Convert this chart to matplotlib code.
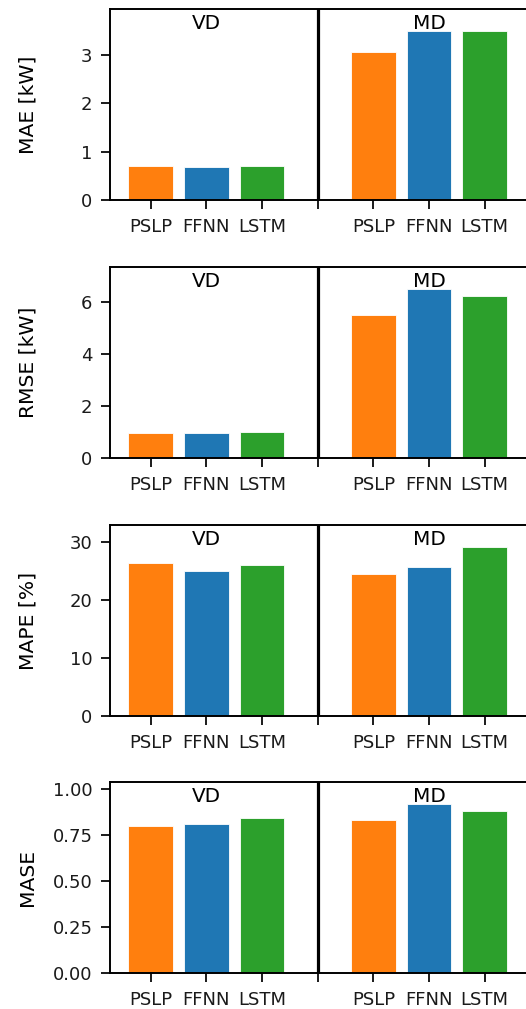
from matplotlib import pyplot as plt
import numpy as np

models = ['PSLP', 'FFNN', 'LSTM']
colors = ['#ff7f0e', '#1f77b4', '#2ca02c']
datasets = ['VD', 'MD']

mae_vd = [0.70, 0.69, 0.70]
mae_md = [3.07, 3.51, 3.50]
rmse_vd = [0.96, 0.95, 0.99]
rmse_md = [5.48, 6.51, 6.21]
mape_vd = [26.5, 25.1, 26.1]
mape_md = [24.6, 25.8, 29.3]
mase_vd = [0.80, 0.81, 0.84]
mase_md = [0.83, 0.92, 0.88]

metrics = [
    ('MAE [kW]', mae_vd, mae_md, [0, 1, 2, 3], None),
    ('RMSE [kW]', rmse_vd, rmse_md, [0, 2, 4, 6], None),
    ('MAPE [%]', mape_vd, mape_md, [0, 10, 20, 30], None),
    ('MASE', mase_vd, mase_md, [0, 0.25, 0.5, 0.75, 1.0], '{:.2f}'),
]

W, H = 526, 1009
fig = plt.figure(figsize=(W / 100, H / 100), dpi=100)

x_vd = np.array([1, 2, 3])
x_md = np.array([5, 6, 7])
row_tops = [9, 267, 525, 782]
ax_h = 191
x0, x1 = 0.26, 7.74
px_per_unit = 55.67
left = 109.5
width = (x1 - x0) * px_per_unit

for (ylabel, vd, md, yticks, fmt), top in zip(metrics, row_tops):
    ax = fig.add_axes([left / W, 1 - (top + ax_h) / H, width / W, ax_h / H])
    ax.bar(x_vd, vd, width=0.8, color=colors, edgecolor='white', lw=0.6)
    ax.bar(x_md, md, width=0.8, color=colors, edgecolor='white', lw=0.6)
    ax.axvline(4, color='k', lw=2.3)
    ymax = max(max(vd), max(md)) * 1.127
    ax.set_xlim(x0, x1)
    ax.set_ylim(0, ymax)
    ax.set_xticks([1, 2, 3, 4, 5, 6, 7])
    ax.set_xticklabels(models + [''] + models)
    ax.set_yticks(yticks)
    if fmt:
        ax.set_yticklabels([fmt.format(v) for v in yticks])
    for xc, name in zip([2, 6], datasets):
        ax.text(xc, 0.975, name, transform=ax.get_xaxis_transform(),
                ha='center', va='top', fontsize=14.4)
    ax.set_ylabel(ylabel, fontsize=14.6)
    ax.yaxis.set_label_coords((37 - left) / width, 0.5)
    ax.tick_params(labelsize=13, length=6.3, width=1.4, pad=6, colors='#1a1a1a')
    ax.tick_params(axis='x', pad=7)
    for s in ax.spines.values():
        s.set_linewidth(1.4)
    ax.spines['right'].set_visible(False)

fig.savefig('out.png', dpi=100)
